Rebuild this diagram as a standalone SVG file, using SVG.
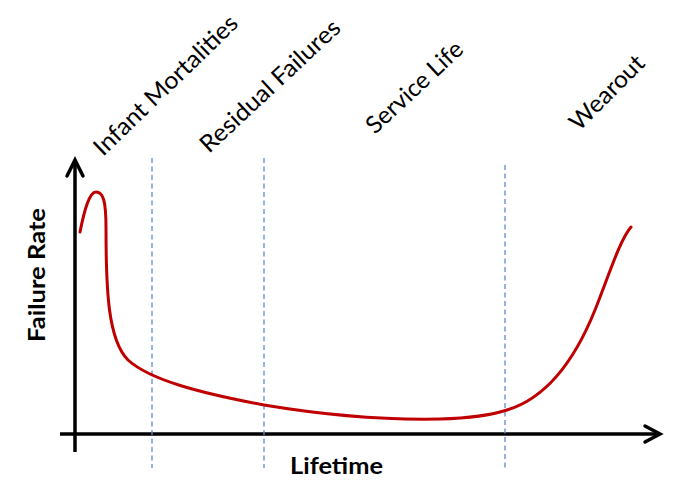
<svg xmlns="http://www.w3.org/2000/svg" width="679" height="481" viewBox="0 0 679 481">
<style>
.axis{stroke:#000;stroke-width:3.5;fill:none;stroke-linecap:butt}
.head{stroke:#000;stroke-width:3.5;fill:none;stroke-linejoin:miter;stroke-linecap:round}
.dash{stroke:#5B8FCC;stroke-width:1.3;stroke-dasharray:5 3.5;fill:none}
.curve{stroke:#C00000;stroke-width:3;fill:none;stroke-linecap:round}
.lbl{font-family:Lato,"Liberation Sans",sans-serif;font-size:24px;fill:#000}
.ax{font-family:Lato,"Liberation Sans",sans-serif;font-size:23px;font-weight:bold;fill:#000}
</style>
<rect width="679" height="481" fill="#fff"/>
<g id="axes">
<line class="axis" x1="75" y1="160" x2="75" y2="452"/>
<polyline class="head" points="67,176 75,160 83,176"/>
<line class="axis" x1="60" y1="434" x2="660" y2="434"/>
<polyline class="head" points="645,426 660,434 645,442"/>
</g>
<g id="dividers">
<line class="dash" x1="152" y1="158" x2="152" y2="468"/>
<line class="dash" x1="264" y1="158" x2="264" y2="468"/>
<line class="dash" x1="505" y1="165" x2="505" y2="468"/>
</g>
<g id="curve">
<path class="curve" d="M80,232 C84,212 89,192 96,192 C103,192 106,200 106,228 C106,290 108,340 128,360 C150,380 200,393 264,405 C330,416 390,420 440,419 C475,418 495,414 507,410 C540,400 570,372 595,310 C610,272 620,240 631,227"/>
</g>
<g id="labels">
<text class="lbl" transform="translate(103,157) rotate(-44)" textLength="190" lengthAdjust="spacingAndGlyphs">Infant Mortalities</text>
<text class="lbl" transform="translate(209,154) rotate(-43)" textLength="182" lengthAdjust="spacingAndGlyphs">Residual Failures</text>
<text class="lbl" transform="translate(375,135) rotate(-43)" textLength="123" lengthAdjust="spacingAndGlyphs">Service Life</text>
<text class="lbl" transform="translate(579,132) rotate(-45)" textLength="95" lengthAdjust="spacingAndGlyphs">Wearout</text>
<text class="ax" transform="translate(45,342) rotate(-90)" textLength="134" lengthAdjust="spacingAndGlyphs">Failure Rate</text>
<text class="ax" x="290" y="474" textLength="93" lengthAdjust="spacingAndGlyphs">Lifetime</text>
</g>
</svg>
